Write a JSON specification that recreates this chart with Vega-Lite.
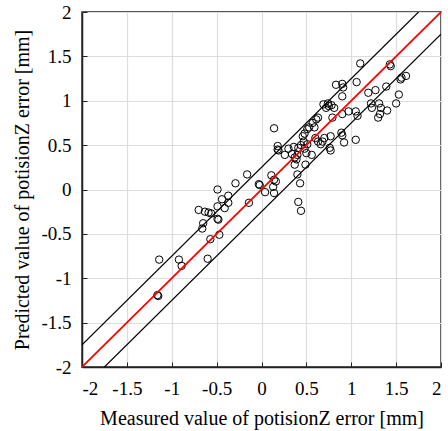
{
  "$schema": "https://vega.github.io/schema/vega-lite/v6.json",
  "autosize": "none",
  "width": 359,
  "height": 355,
  "padding": {"left": 82, "top": 12, "right": 7, "bottom": 64},
  "config": {
    "view": {"stroke": "#222222", "strokeWidth": 1.5},
    "font": "Liberation Serif"
  },
  "datasets": {
    "pts": [
      {"m": -1.16, "p": -1.19}, {"m": -1.15, "p": -1.2},
      {"m": -1.14, "p": -0.79}, {"m": -0.92, "p": -0.79}, {"m": -0.89, "p": -0.86},
      {"m": -0.6, "p": -0.78}, {"m": -0.57, "p": -0.56}, {"m": -0.47, "p": -0.51},
      {"m": -0.65, "p": -0.38}, {"m": -0.66, "p": -0.44}, {"m": -0.7, "p": -0.23},
      {"m": -0.63, "p": -0.25}, {"m": -0.59, "p": -0.26}, {"m": -0.56, "p": -0.27},
      {"m": -0.49, "p": -0.19}, {"m": -0.41, "p": -0.21}, {"m": -0.49, "p": -0.33},
      {"m": -0.48, "p": -0.34}, {"m": -0.37, "p": -0.15}, {"m": -0.44, "p": -0.11},
      {"m": -0.37, "p": -0.07}, {"m": -0.49, "p": 0.0}, {"m": -0.29, "p": 0.07},
      {"m": -0.16, "p": 0.17}, {"m": -0.14, "p": -0.15}, {"m": -0.03, "p": 0.06},
      {"m": -0.02, "p": 0.05}, {"m": 0.04, "p": -0.03}, {"m": 0.14, "p": -0.04},
      {"m": 0.13, "p": 0.03}, {"m": 0.16, "p": 0.09}, {"m": 0.11, "p": 0.16},
      {"m": 0.14, "p": 0.11}, {"m": 0.14, "p": 0.69}, {"m": 0.18, "p": 0.49},
      {"m": 0.18, "p": 0.45}, {"m": 0.19, "p": 0.44}, {"m": 0.26, "p": 0.39},
      {"m": 0.3, "p": 0.46}, {"m": 0.36, "p": 0.48}, {"m": 0.34, "p": 0.4},
      {"m": 0.41, "p": 0.47}, {"m": 0.44, "p": 0.5}, {"m": 0.47, "p": 0.54},
      {"m": 0.46, "p": 0.6}, {"m": 0.48, "p": 0.63}, {"m": 0.51, "p": 0.68},
      {"m": 0.53, "p": 0.7}, {"m": 0.59, "p": 0.7}, {"m": 0.57, "p": 0.75},
      {"m": 0.61, "p": 0.79}, {"m": 0.63, "p": 0.81}, {"m": 0.6, "p": 0.58},
      {"m": 0.51, "p": 0.51}, {"m": 0.48, "p": 0.46}, {"m": 0.5, "p": 0.41},
      {"m": 0.4, "p": 0.39}, {"m": 0.37, "p": 0.36}, {"m": 0.39, "p": 0.34},
      {"m": 0.37, "p": 0.28}, {"m": 0.49, "p": 0.28}, {"m": 0.56, "p": 0.39},
      {"m": 0.4, "p": 0.17}, {"m": 0.43, "p": 0.07}, {"m": 0.41, "p": -0.14},
      {"m": 0.44, "p": -0.24}, {"m": 0.63, "p": 0.54}, {"m": 0.68, "p": 0.54},
      {"m": 0.7, "p": 0.58}, {"m": 0.66, "p": 0.51}, {"m": 0.76, "p": 0.47},
      {"m": 0.77, "p": 0.44}, {"m": 0.77, "p": 0.6}, {"m": 0.69, "p": 0.96},
      {"m": 0.72, "p": 0.92}, {"m": 0.74, "p": 0.97}, {"m": 0.75, "p": 0.94},
      {"m": 0.78, "p": 0.95}, {"m": 0.81, "p": 0.92}, {"m": 0.79, "p": 0.81},
      {"m": 0.9, "p": 0.85}, {"m": 0.89, "p": 0.64}, {"m": 0.9, "p": 0.61},
      {"m": 0.92, "p": 0.53}, {"m": 1.05, "p": 0.56}, {"m": 0.97, "p": 0.88},
      {"m": 1.05, "p": 0.88}, {"m": 1.07, "p": 0.83}, {"m": 0.83, "p": 1.18},
      {"m": 0.9, "p": 1.19}, {"m": 0.91, "p": 1.15}, {"m": 0.9, "p": 1.05},
      {"m": 1.06, "p": 1.21}, {"m": 1.1, "p": 1.42}, {"m": 1.19, "p": 1.09},
      {"m": 1.27, "p": 1.12}, {"m": 1.39, "p": 1.16}, {"m": 1.22, "p": 0.97},
      {"m": 1.23, "p": 0.92}, {"m": 1.31, "p": 0.97}, {"m": 1.33, "p": 0.92},
      {"m": 1.32, "p": 0.85}, {"m": 1.3, "p": 0.81}, {"m": 1.4, "p": 0.89},
      {"m": 1.43, "p": 1.41}, {"m": 1.44, "p": 1.39}, {"m": 1.5, "p": 0.97},
      {"m": 1.53, "p": 1.07}, {"m": 1.55, "p": 1.24}, {"m": 1.56, "p": 1.26},
      {"m": 1.61, "p": 1.28}
    ],
    "bands": [
      {"m": -2, "p": -1.75, "line": "upper"}, {"m": 1.75, "p": 2, "line": "upper"},
      {"m": -1.75, "p": -2, "line": "lower"}, {"m": 2, "p": 1.75, "line": "lower"}
    ],
    "ideal": [
      {"m": -2, "p": -2}, {"m": 2, "p": 2}
    ]
  },
  "layer": [
    {
      "data": {"name": "pts"},
      "mark": {"type": "point", "shape": "circle", "filled": false, "color": "#000000", "size": 55, "strokeWidth": 1, "opacity": 1},
      "encoding": {
        "x": {
          "field": "m", "type": "quantitative",
          "scale": {"domain": [-2, 2], "nice": false, "zero": false},
          "axis": {
            "values": [-2, -1.5, -1, -0.5, 0, 0.5, 1, 1.5, 2],
            "title": "Measured  value of potisionZ error [mm]",
            "labelExpr": "toString(datum.value)",
            "labelFont": "Liberation Serif", "labelFontSize": 19, "labelColor": "#000000", "labelPadding": 17,
            "titleFont": "Liberation Serif", "titleFontSize": 20, "titleFontWeight": "normal", "titleColor": "#000000", "titlePadding": 10,
            "grid": true, "gridColor": "#dddddd", "gridWidth": 1.2,
            "domainColor": "#222222", "domainWidth": 1.5,
            "tickColor": "#222222", "tickSize": -5, "tickWidth": 1
          }
        },
        "y": {
          "field": "p", "type": "quantitative",
          "scale": {"domain": [-2, 2], "nice": false, "zero": false},
          "axis": {
            "values": [-2, -1.5, -1, -0.5, 0, 0.5, 1, 1.5, 2],
            "title": "Predicted  value of potisionZ error [mm]",
            "labelExpr": "toString(datum.value)",
            "labelFont": "Liberation Serif", "labelFontSize": 19, "labelColor": "#000000", "labelPadding": 16,
            "titleFont": "Liberation Serif", "titleFontSize": 20, "titleFontWeight": "normal", "titleColor": "#000000", "titlePadding": 8,
            "grid": true, "gridColor": "#dddddd", "gridWidth": 1.2,
            "domainColor": "#222222", "domainWidth": 1.5,
            "tickColor": "#222222", "tickSize": -5, "tickWidth": 1
          }
        }
      }
    },
    {
      "data": {"name": "bands"},
      "mark": {"type": "line", "color": "#000000", "strokeWidth": 1.2, "clip": true},
      "encoding": {
        "x": {"field": "m", "type": "quantitative"},
        "y": {"field": "p", "type": "quantitative"},
        "detail": {"field": "line", "type": "nominal"}
      }
    },
    {
      "data": {"name": "ideal"},
      "mark": {"type": "line", "color": "#ff0000", "strokeWidth": 1.8, "clip": true},
      "encoding": {
        "x": {"field": "m", "type": "quantitative"},
        "y": {"field": "p", "type": "quantitative"}
      }
    }
  ]
}
